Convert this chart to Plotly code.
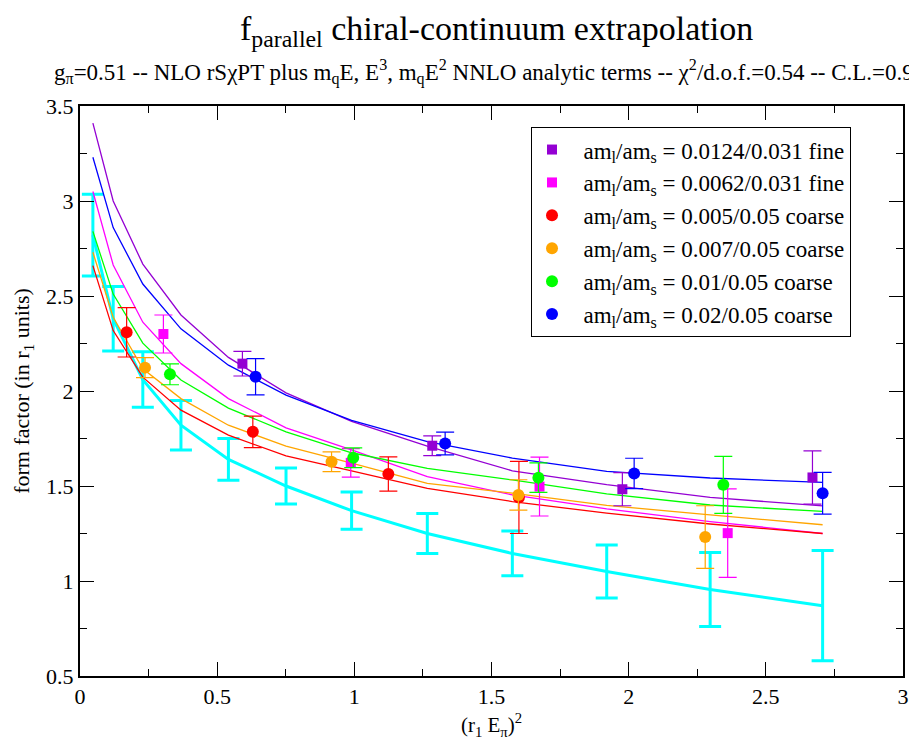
import plotly.graph_objects as go

# ---- data ----
x_grid = [0.047, 0.121, 0.229, 0.368, 0.541, 0.751, 0.99, 1.266, 1.576, 1.92, 2.297, 2.707]
cont_y = [2.82, 2.38, 2.06, 1.82, 1.64, 1.50, 1.37, 1.25, 1.145, 1.05, 0.955, 0.87]
cont_err = [0.215, 0.17, 0.146, 0.13, 0.11, 0.095, 0.098, 0.105, 0.118, 0.14, 0.195, 0.29]

fit_purple = [3.41, 3.0, 2.668, 2.40, 2.177, 1.99, 1.84, 1.71, 1.58, 1.507, 1.44, 1.395]
fit_blue = [3.23, 2.86, 2.563, 2.327, 2.136, 1.978, 1.845, 1.733, 1.647, 1.577, 1.542, 1.519]
fit_magenta = [3.05, 2.663, 2.362, 2.144, 1.96, 1.806, 1.69, 1.549, 1.453, 1.38, 1.313, 1.25]
fit_green = [2.84, 2.51, 2.252, 2.058, 1.91, 1.785, 1.675, 1.593, 1.532, 1.458, 1.40, 1.366]
fit_orange = [2.73, 2.388, 2.117, 1.96, 1.82, 1.71, 1.62, 1.514, 1.462, 1.398, 1.348, 1.296]
fit_red = [2.66, 2.318, 2.073, 1.899, 1.768, 1.658, 1.58, 1.488, 1.418, 1.357, 1.30, 1.25]

purple_x = [0.592, 1.284, 1.977, 2.67]
purple_y = [2.144, 1.712, 1.483, 1.545]
purple_e = [0.065, 0.052, 0.087, 0.14]

magenta_x = [0.304, 0.987, 1.675, 2.361]
magenta_y = [2.30, 1.622, 1.497, 1.252]
magenta_e = [0.10, 0.075, 0.155, 0.233]

red_x = [0.170, 0.630, 1.124, 1.60]
red_y = [2.309, 1.785, 1.563, 1.44]
red_e = [0.13, 0.083, 0.09, 0.19]

orange_x = [0.237, 0.917, 1.598, 2.279]
orange_y = [2.123, 1.628, 1.453, 1.231]
orange_e = [0.053, 0.052, 0.08, 0.165]

green_x = [0.328, 0.996, 1.671, 2.345]
green_y = [2.088, 1.649, 1.544, 1.506]
green_e = [0.055, 0.052, 0.078, 0.15]

blue_x = [0.640, 1.331, 2.02, 2.707]
blue_y = [2.075, 1.724, 1.566, 1.462]
blue_e = [0.095, 0.06, 0.08, 0.11]

labels = [
    "am<sub>l</sub>/am<sub>s</sub> = 0.0124/0.031 fine",
    "am<sub>l</sub>/am<sub>s</sub> = 0.0062/0.031 fine",
    "am<sub>l</sub>/am<sub>s</sub> = 0.005/0.05 coarse",
    "am<sub>l</sub>/am<sub>s</sub> = 0.007/0.05 coarse",
    "am<sub>l</sub>/am<sub>s</sub> = 0.01/0.05 coarse",
    "am<sub>l</sub>/am<sub>s</sub> = 0.02/0.05 coarse",
]

FONT = "Liberation Serif, Times New Roman, Times, DejaVu Serif, serif"
C_PURPLE = "#9400D3"
C_MAGENTA = "#FF00FF"
C_RED = "#FF0000"
C_ORANGE = "#FFA500"
C_GREEN = "#00FF00"
C_BLUE = "#0000FF"
C_CYAN = "#00FFFF"

fig = go.Figure()

fig.add_trace(go.Scatter(
    x=x_grid, y=cont_y, mode="lines",
    line=dict(color=C_CYAN, width=3),
    error_y=dict(type="data", array=cont_err, color=C_CYAN, thickness=3, width=11),
    showlegend=False, hoverinfo="skip"))

for fy, c in [(fit_purple, C_PURPLE), (fit_magenta, C_MAGENTA), (fit_red, C_RED),
              (fit_orange, C_ORANGE), (fit_green, C_GREEN), (fit_blue, C_BLUE)]:
    fig.add_trace(go.Scatter(x=x_grid, y=fy, mode="lines",
                             line=dict(color=c, width=1.3),
                             showlegend=False, hoverinfo="skip"))

series = [
    (purple_x, purple_y, purple_e, C_PURPLE, "square", 10),
    (magenta_x, magenta_y, magenta_e, C_MAGENTA, "square", 10),
    (red_x, red_y, red_e, C_RED, "circle", 12),
    (orange_x, orange_y, orange_e, C_ORANGE, "circle", 12),
    (green_x, green_y, green_e, C_GREEN, "circle", 12),
    (blue_x, blue_y, blue_e, C_BLUE, "circle", 12),
]
for (sx, sy, se, c, sym, sz), lab in zip(series, labels):
    fig.add_trace(go.Scatter(
        x=sx, y=sy, mode="markers", name="\u00a0\u00a0" + lab,
        marker=dict(color=c, symbol=sym, size=sz, line=dict(width=0)),
        error_y=dict(type="data", array=se, color=c, thickness=1.2, width=9)))

axis_common = dict(
    showgrid=False, zeroline=False, showline=True, linecolor="black", linewidth=2,
    mirror="ticks", ticks="inside", ticklen=14, tickwidth=1, tickcolor="black",
    tickfont=dict(family=FONT, size=22, color="black"), automargin=False,
)

fig.update_xaxes(range=[0, 3], dtick=0.5, tick0=0,
                 minor=dict(ticks="inside", ticklen=7, dtick=0.25, tickcolor="black"),
                 title=dict(text="(r<sub>1</sub> E<sub>π</sub>)<sup>2</sup>",
                            font=dict(family=FONT, size=21, color="black"), standoff=9),
                 **axis_common)
fig.update_yaxes(range=[0.5, 3.5], dtick=0.5, tick0=0.5,
                 minor=dict(ticks="inside", ticklen=7, dtick=0.25, tickcolor="black"),
                 title=dict(text="form factor (in r<sub>1</sub> units)",
                            font=dict(family=FONT, size=22, color="black"), standoff=10),
                 **axis_common)

# page body has an 8px margin: size the figure so the plot box lands at x 80-903, y 106-676
fig.update_layout(
    width=909, height=737,
    margin=dict(l=72, r=14, t=98, b=69),
    paper_bgcolor="white", plot_bgcolor="white",
    font=dict(family=FONT, color="black"),
    legend=dict(x=0.548, y=0.963, xanchor="left", yanchor="top",
                bgcolor="white", bordercolor="black", borderwidth=1,
                font=dict(family=FONT, size=23, color="black"),
                itemwidth=30, tracegroupgap=0),
    annotations=[
        dict(text="f<sub>parallel</sub> chiral-continuum extrapolation",
             x=0.506, y=1.0, xref="paper", yref="paper", xanchor="center", yanchor="bottom",
             yshift=52, showarrow=False, font=dict(family=FONT, size=34, color="black")),
        dict(text="g<sub>π</sub>=0.51 -- NLO rSχPT plus m<sub>q</sub>E, E<sup>3</sup>, m<sub>q</sub>E<sup>2</sup> NNLO analytic terms -- χ<sup>2</sup>/d.o.f.=0.54 -- C.L.=0.93",
             x=-0.034, y=1.0, xref="paper", yref="paper", xanchor="left", yanchor="bottom",
             yshift=16, showarrow=False, font=dict(family=FONT, size=23, color="black")),
    ],
)

fig.write_html("out.html")
